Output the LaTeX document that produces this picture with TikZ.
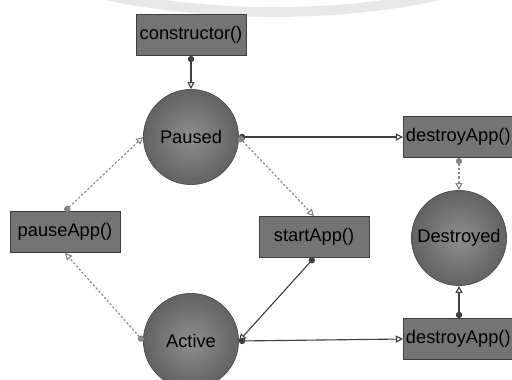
\documentclass[tikz,border=0pt]{standalone}
\usepackage{fontspec}
\setmainfont{Liberation Sans}
\usetikzlibrary{arrows.meta}
\definecolor{boxfill}{HTML}{747474}
\definecolor{statein}{HTML}{8E8E8E}
\definecolor{stateout}{HTML}{626262}
\definecolor{edge}{HTML}{3F3F3F}
\definecolor{weak}{HTML}{858585}

\begin{document}
\begin{tikzpicture}[x=0.025cm,y=-0.025cm,
  font=\fontsize{13}{15}\selectfont,
  call/.style={draw=edge,fill=boxfill,minimum width=2.75cm,minimum height=1.03cm,inner sep=1pt},
  state/.style={circle,draw=stateout!70!black,inner color=statein,outer color=stateout,minimum size=2.38cm,inner sep=0pt},
  flow/.style={edge,line width=0.8pt,{Circle[length=4.5pt]}-{Triangle[open,length=5pt,width=5pt]}},
  weakflow/.style={flow,weak,dash pattern=on 1.6pt off 1.4pt}]
\useasboundingbox (0,0) rectangle (512,380);
\clip (0,0) rectangle (512,380);
\draw[gray!18,line width=7pt] (100,-6) .. controls (210,18) and (340,18) .. (445,-6);
% call boxes and states
\node[call] (ctor) at (191,35) {constructor()};
\node[state] (paused) at (191,137) {Paused};
\node[state] (active) at (191,341) {Active};
\node[state] (destroyed) at (459,238) {Destroyed};
\node[call] (pause) at (65,232) {pauseApp()};
\node[call] (start) at (314,237) {startApp()};
\node[call,anchor=west] (destroyA) at (403,137) {destroyApp()};
\node[call,anchor=west] (destroyB) at (403,339) {destroyApp()};
% transitions
\draw[flow] (ctor.south) -- (paused.north);
\draw[flow] (paused.east) -- (destroyA.west);
\draw[weakflow] (paused.east) -- (start.north);
\draw[flow] (start.south) -- (active.east);
\draw[flow] (active.east) -- (destroyB.west);
\draw[weakflow] (active.west) -- (pause.south);
\draw[weakflow] (pause.north) -- (paused.west);
\draw[weakflow] (destroyA.south -| destroyed.north) -- (destroyed.north);
\draw[flow] (destroyB.north -| destroyed.south) -- (destroyed.south);
\end{tikzpicture}
\end{document}
